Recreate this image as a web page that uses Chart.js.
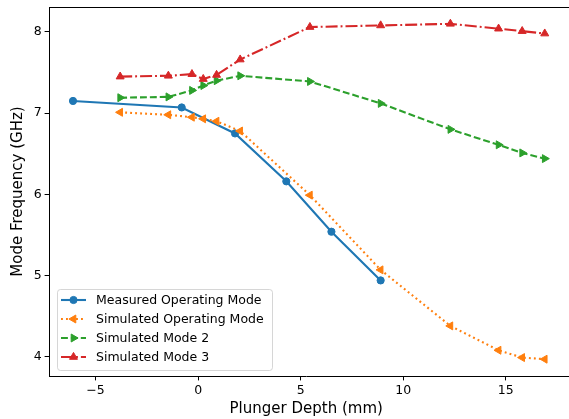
<!DOCTYPE html>
<html>
<head>
<meta charset="utf-8">
<script src="https://cdn.jsdelivr.net/npm/chart.js@4"></script>
<style>
  html, body { margin: 0; padding: 0; background: #fff; overflow: hidden; }
  canvas { display: block; }
</style>
</head>
<body>
<canvas id="chart" width="569" height="419"></canvas>
<script>
// values
const measuredX = [-6.1, -0.8, 1.8, 4.3, 6.5, 8.9];
const measuredY = [7.15, 7.07, 6.75, 6.16, 5.54, 4.94];

const simX = [-3.8, -1.45, -0.3, 0.25, 0.9, 2.05, 5.45, 8.9, 12.3, 14.65, 15.8, 16.9];
const simOpY = [7.01, 6.98, 6.95, 6.93, 6.90, 6.78, 5.99, 5.07, 4.38, 4.08, 3.99, 3.97];
const simMode2Y = [7.19, 7.20, 7.28, 7.34, 7.40, 7.46, 7.39, 7.12, 6.80, 6.61, 6.51, 6.44];
const simMode3Y = [7.45, 7.46, 7.48, 7.42, 7.47, 7.66, 8.06, 8.08, 8.10, 8.04, 8.01, 7.98];

const xTicks = [-5, 0, 5, 10, 15];
const yTicks = [4, 5, 6, 7, 8];

const pairs = (xs, ys) => xs.map((x, i) => ({ x: x, y: ys[i] }));

const FONT = 'DejaVu Sans';

const series = [
  { label: 'Measured Operating Mode', data: pairs(measuredX, measuredY), color: '#1f77b4',
    dash: [], pointStyle: 'circle', rotation: 0, radius: 3.6, order: 3 },
  { label: 'Simulated Operating Mode', data: pairs(simX, simOpY), color: '#ff7f0e',
    dash: [1.9, 3.1], pointStyle: 'triangle', rotation: -90, radius: 4.6, order: 2 },
  { label: 'Simulated Mode 2', data: pairs(simX, simMode2Y), color: '#2ca02c',
    dash: [6.9, 3], pointStyle: 'triangle', rotation: 90, radius: 4.6, order: 1 },
  { label: 'Simulated Mode 3', data: pairs(simX, simMode3Y), color: '#d62728',
    dash: [12, 3, 1.9, 3], pointStyle: 'triangle', rotation: 0, radius: 4.6, order: 0 }
];

// top spine, bottom spine run-out to the (cropped) right edge, and a matplotlib-like legend
const framePlugin = {
  id: 'frameAndLegend',
  afterDraw(chart) {
    const { ctx, chartArea } = chart;
    ctx.save();
    ctx.strokeStyle = '#000';
    ctx.lineWidth = 1;
    ctx.beginPath();
    ctx.moveTo(chartArea.left, chartArea.top + 0.5);
    ctx.lineTo(chart.width, chartArea.top + 0.5);
    ctx.moveTo(chartArea.right - 1, chartArea.bottom + 0.5);
    ctx.lineTo(chart.width, chartArea.bottom + 0.5);
    ctx.stroke();

    const bx = chartArea.left + 8, by = chartArea.bottom - 87, bw = 215, bh = 81;
    ctx.fillStyle = 'rgba(255,255,255,0.8)';
    ctx.strokeStyle = 'rgba(204,204,204,0.8)';
    ctx.beginPath();
    ctx.roundRect(bx + 0.5, by + 0.5, bw, bh, 3);
    ctx.fill();
    ctx.stroke();

    ctx.font = '12.5px "' + FONT + '"';
    ctx.textBaseline = 'middle';
    series.forEach((s, i) => {
      const y = by + 11 + i * 19;
      const x0 = bx + 4;
      ctx.strokeStyle = s.color;
      ctx.fillStyle = s.color;
      ctx.lineWidth = 2.1;
      ctx.setLineDash(s.dash);
      ctx.beginPath();
      ctx.moveTo(x0, y);
      ctx.lineTo(x0 + 25, y);
      ctx.stroke();
      ctx.setLineDash([]);
      ctx.lineWidth = 1;
      Chart.helpers.drawPoint(ctx, {
        pointStyle: s.pointStyle, rotation: s.rotation, radius: s.radius, borderWidth: 1
      }, x0 + 12.5, y);
      ctx.fillStyle = '#000';
      ctx.fillText(s.label, x0 + 35, y + 1);
    });
    ctx.restore();
  }
};

new Chart(document.getElementById('chart'), {
  type: 'line',
  data: {
    datasets: series.map(s => ({
      label: s.label,
      data: s.data,
      order: s.order,
      borderColor: s.color,
      backgroundColor: s.color,
      borderWidth: 2.1,
      borderDash: s.dash,
      tension: 0,
      fill: false,
      pointStyle: s.pointStyle,
      rotation: s.rotation,
      pointRadius: s.radius,
      pointBorderWidth: 1,
      pointBorderColor: s.color,
      pointBackgroundColor: s.color
    }))
  },
  options: {
    responsive: false,
    animation: false,
    devicePixelRatio: 1,
    layout: { padding: { top: 7, right: 0, left: 0, bottom: 0 } },
    plugins: { legend: { display: false }, tooltip: { enabled: false } },
    scales: {
      x: {
        type: 'linear',
        // Chart.js keeps a 5px right margin here, so max is where the plot stops at x=564
        min: -7.27,
        max: 17.81,
        afterFit: scale => { scale.height = 43; scale.paddingLeft = 0; scale.paddingRight = 0; },
        afterBuildTicks: scale => { scale.ticks = xTicks.map(v => ({ value: v })); },
        grid: { display: true, drawOnChartArea: false, drawTicks: true, tickLength: 4.4, color: '#000', lineWidth: 1 },
        border: { display: true, color: '#000', width: 1 },
        ticks: {
          color: '#000', padding: 3, maxRotation: 0,
          font: { family: FONT, size: 12.5 },
          callback: v => (v < 0 ? '\u2212' + Math.abs(v) : String(v))
        },
        title: {
          display: true, text: 'Plunger Depth (mm)', color: '#000',
          font: { family: FONT, size: 15 }, padding: { top: 0, bottom: 1 }
        }
      },
      y: {
        type: 'linear',
        min: 3.763,
        max: 8.307,
        afterFit: scale => { scale.width = 49; scale.paddingTop = 0; scale.paddingBottom = 0; },
        afterBuildTicks: scale => { scale.ticks = yTicks.map(v => ({ value: v })); },
        grid: { display: true, drawOnChartArea: false, drawTicks: true, tickLength: 4.4, color: '#000', lineWidth: 1 },
        border: { display: true, color: '#000', width: 1 },
        ticks: {
          color: '#000', padding: 3,
          font: { family: FONT, size: 12.5 }
        },
        title: {
          display: true, text: 'Mode Frequency (GHz)', color: '#000',
          font: { family: FONT, size: 15 }, padding: { top: 9, bottom: 0 }
        }
      }
    }
  },
  plugins: [framePlugin]
});
</script>
</body>
</html>
